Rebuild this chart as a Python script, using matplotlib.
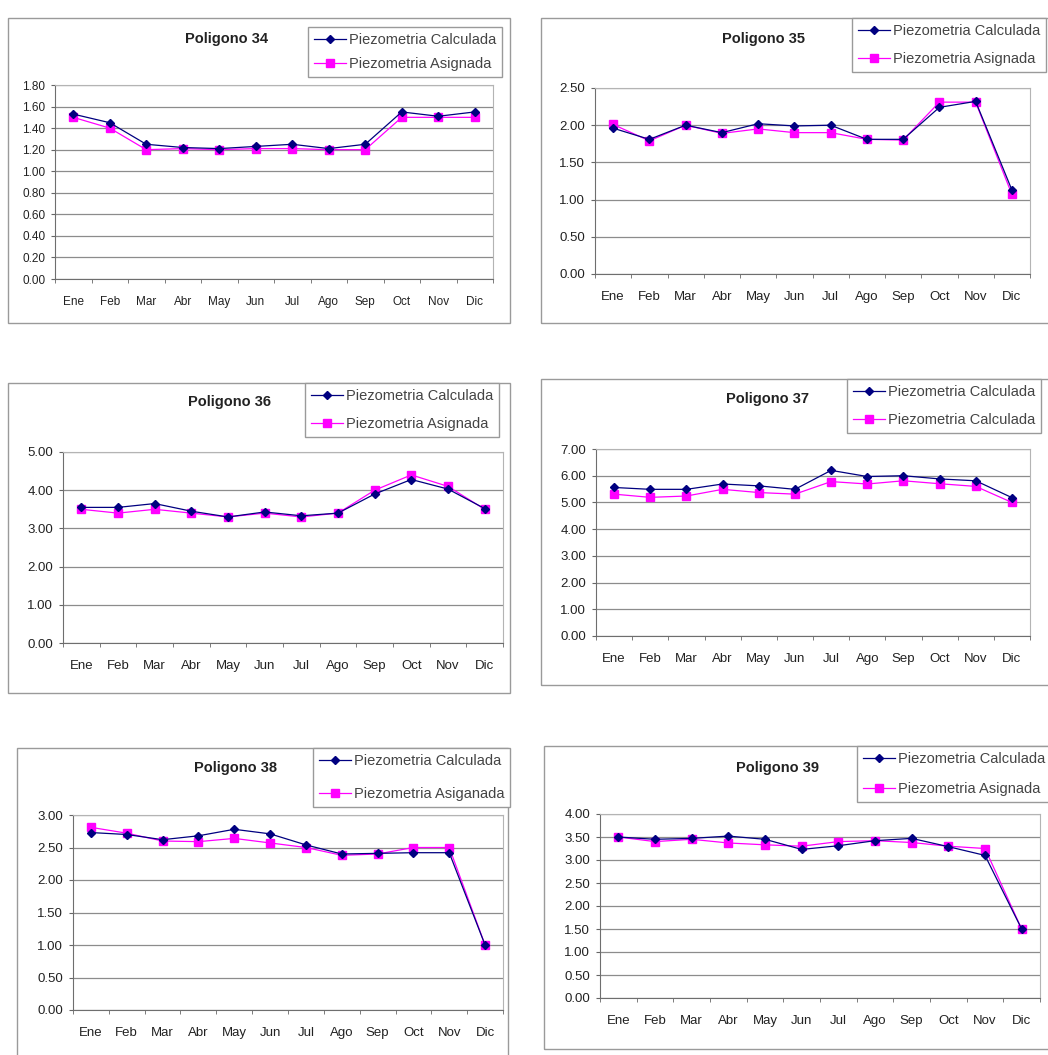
import matplotlib
matplotlib.use("Agg")
import matplotlib.pyplot as plt
from matplotlib.patches import Rectangle
from matplotlib.lines import Line2D
import numpy as np

plt.rcParams["font.family"] = ["Liberation Sans", "DejaVu Sans"]

months = ["Ene", "Feb", "Mar", "Abr", "May", "Jun", "Jul", "Ago", "Sep", "Oct", "Nov", "Dic"]

# Piezometria por poligono (m)
calc_34 = [1.53, 1.45, 1.25, 1.22, 1.21, 1.23, 1.25, 1.21, 1.25, 1.55, 1.51, 1.55]
asig_34 = [1.50, 1.40, 1.20, 1.21, 1.20, 1.21, 1.21, 1.20, 1.20, 1.50, 1.50, 1.50]

calc_35 = [1.96, 1.81, 2.00, 1.90, 2.02, 1.99, 2.00, 1.81, 1.81, 2.24, 2.32, 1.13]
asig_35 = [2.01, 1.79, 2.00, 1.89, 1.95, 1.90, 1.90, 1.81, 1.80, 2.31, 2.31, 1.07]

calc_36 = [3.55, 3.55, 3.65, 3.45, 3.30, 3.43, 3.33, 3.40, 3.90, 4.28, 4.03, 3.52]
asig_36 = [3.50, 3.40, 3.50, 3.40, 3.30, 3.40, 3.30, 3.40, 4.00, 4.40, 4.10, 3.50]

calc_37 = [5.56, 5.49, 5.49, 5.69, 5.62, 5.49, 6.20, 5.97, 6.00, 5.88, 5.81, 5.18]
asig_37 = [5.31, 5.19, 5.24, 5.49, 5.37, 5.31, 5.78, 5.69, 5.81, 5.70, 5.60, 5.00]

calc_38 = [2.73, 2.70, 2.62, 2.68, 2.78, 2.71, 2.54, 2.40, 2.41, 2.42, 2.42, 1.00]
asig_38 = [2.81, 2.72, 2.60, 2.59, 2.64, 2.57, 2.50, 2.38, 2.40, 2.50, 2.50, 1.00]

calc_39 = [3.50, 3.45, 3.47, 3.52, 3.45, 3.23, 3.31, 3.42, 3.47, 3.29, 3.10, 1.50]
asig_39 = [3.50, 3.40, 3.45, 3.37, 3.33, 3.30, 3.40, 3.42, 3.38, 3.30, 3.25, 1.50]

titles = ["Poligono 34", "Poligono 35", "Poligono 36", "Poligono 37", "Poligono 38", "Poligono 39"]
labels = [
    ("Piezometria Calculada", "Piezometria Asignada"),
    ("Piezometria Calculada", "Piezometria Asignada"),
    ("Piezometria Calculada", "Piezometria Asignada"),
    ("Piezometria Calculada", "Piezometria Calculada"),
    ("Piezometria Calculada", "Piezometria Asiganada"),
    ("Piezometria Calculada", "Piezometria Asignada"),
]
series = [(calc_34, asig_34), (calc_35, asig_35), (calc_36, asig_36),
          (calc_37, asig_37), (calc_38, asig_38), (calc_39, asig_39)]
y_axes = [(1.8, 0.2), (2.5, 0.5), (5.0, 1.0), (7.0, 1.0), (3.0, 0.5), (4.0, 0.5)]

W, H = 1048, 1055

# pixel layout: outer box, plot area, legend top-left, title centre, font sizes, legend row gap
layout = [
    dict(box=(8, 18, 510, 323), plot=(55, 85, 493, 279), leg=(308, 27), title=(227, 39), fs=8.5, lfs=10.5, gap=0.7),
    dict(box=(541, 18, 1060, 323), plot=(595, 88, 1030, 274), leg=(852, 18), title=(763, 39), fs=9.5, lfs=10.5, gap=1.0),
    dict(box=(8, 383, 510, 693), plot=(63, 452, 503, 643), leg=(305, 383), title=(230, 402), fs=9.5, lfs=10.5, gap=1.0),
    dict(box=(541, 379, 1060, 685), plot=(596, 449, 1030, 636), leg=(847, 379), title=(767, 399), fs=9.5, lfs=10.5, gap=1.0),
    dict(box=(17, 748, 508, 1065), plot=(73, 815, 503, 1010), leg=(313, 748), title=(235, 768), fs=9.5, lfs=10.5, gap=1.3),
    dict(box=(544, 746, 1060, 1049), plot=(600, 814, 1040, 998), leg=(857, 746), title=(777, 768), fs=9.5, lfs=10.5, gap=1.1),
]

NAVY = "#000080"
MAGENTA = "#FF00FF"
TEXT = "#222222"


def fx(px):
    return px / W


def fy(py):
    return 1 - py / H


fig = plt.figure(figsize=(W / 100, H / 100), dpi=100)
fig.patch.set_facecolor("white")

x = np.arange(len(months))

for (calc, asig), title, lab, (ymax, step), lay in zip(series, titles, labels, y_axes, layout):
    # outer chart frame
    bx0, by0, bx1, by1 = lay["box"]
    fig.patches.append(Rectangle((fx(bx0), fy(by1)), fx(bx1) - fx(bx0), fy(by0) - fy(by1),
                                 transform=fig.transFigure, fill=False,
                                 edgecolor="#9a9a9a", linewidth=1.0, zorder=0))

    px0, py0, px1, py1 = lay["plot"]
    ax = fig.add_axes([fx(px0), fy(py1), fx(px1) - fx(px0), fy(py0) - fy(py1)])
    ax.plot(x, calc, color=NAVY, marker="D", markersize=4.5, linewidth=0.9, zorder=3)
    ax.plot(x, asig, color=MAGENTA, marker="s", markersize=5.5, linewidth=0.9, zorder=2)

    ax.set_xlim(-0.5, len(months) - 0.5)
    ax.set_ylim(0, ymax)
    yt = np.arange(0, ymax + step / 2, step)
    ax.set_yticks(yt)
    ax.set_yticklabels([f"{v:.2f}" for v in yt], fontsize=lay["fs"], color=TEXT)
    ax.set_xticks(x)
    ax.set_xticklabels(months, fontsize=lay["fs"], color=TEXT)
    ax.set_xticks(np.arange(-0.5, len(months)), minor=True)
    ax.tick_params(axis="x", which="major", length=0, pad=12)
    ax.tick_params(axis="x", which="minor", length=3, color="#666666", direction="out")
    ax.tick_params(axis="y", length=3, color="#666666", pad=4)
    ax.grid(axis="y", color="#8c8c8c", linewidth=0.9)
    ax.set_axisbelow(True)
    for side in ("left", "bottom"):
        ax.spines[side].set_color("#6e6e6e")
    for side in ("top", "right"):
        ax.spines[side].set_color("#b4b4b4")

    tx, ty = lay["title"]
    fig.text(fx(tx), fy(ty), title, ha="center", va="center",
             fontsize=10.5, fontweight="bold", color=TEXT)

    lx0, ly0 = lay["leg"]
    handles = [
        Line2D([], [], color=NAVY, marker="D", markersize=4.5, linewidth=0.9),
        Line2D([], [], color=MAGENTA, marker="s", markersize=5.5, linewidth=0.9),
    ]
    leg = fig.legend(handles, lab, loc="upper left",
                     bbox_to_anchor=(fx(lx0), fy(ly0)),
                     bbox_transform=fig.transFigure,
                     fontsize=lay["lfs"], frameon=True, fancybox=False, framealpha=1,
                     edgecolor="#9a9a9a", handlelength=2.2, handletextpad=0.2,
                     borderpad=0.4, labelspacing=lay["gap"], borderaxespad=0)
    for t in leg.get_texts():
        t.set_color("#444444")
    leg.get_frame().set_linewidth(1.0)

fig.savefig("out.png", dpi=100, facecolor="white")
